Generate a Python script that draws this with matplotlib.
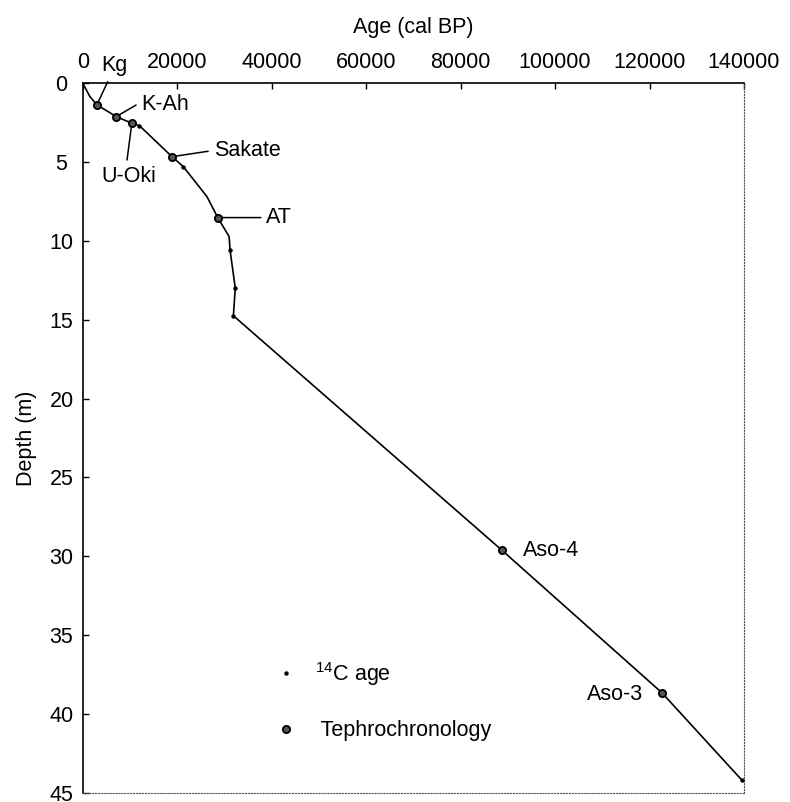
import matplotlib
matplotlib.use('Agg')
import matplotlib.pyplot as plt

plt.rcParams['font.family'] = ['Liberation Sans', 'DejaVu Sans']
plt.rcParams['mathtext.fontset'] = 'custom'
plt.rcParams['mathtext.rm'] = 'Liberation Sans'
plt.rcParams['font.size'] = 15.5

# age-depth curve (cal BP, m)
line_age = [0, 1500, 3000, 7100, 10400, 12000, 18900, 21300, 26300, 28600,
            31000, 31200, 32300, 31900, 88700, 122600, 139600]
line_depth = [0, 0.85, 1.38, 2.13, 2.55, 2.70, 4.67, 5.30, 7.20, 8.53,
              9.74, 10.6, 13.0, 14.75, 29.6, 38.64, 44.2]

# 14C dated levels
c14_age = [12000, 21300, 31200, 32300, 31900, 139600]
c14_depth = [2.70, 5.30, 10.6, 13.0, 14.75, 44.2]

# tephra markers
tephra_names = ['Kg', 'K-Ah', 'U-Oki', 'Sakate', 'AT', 'Aso-4', 'Aso-3']
tephra_age = [3000, 7100, 10400, 18900, 28600, 88700, 122600]
tephra_depth = [1.38, 2.13, 2.55, 4.67, 8.53, 29.6, 38.64]

x_ticks = list(range(0, 140001, 20000))
y_ticks = list(range(0, 46, 5))

# label placement: offset (pt), alignment, leader line start (relpos) or None
label_layout = {
    'Kg': ((3, 28), 'left', (0.35, 0.0)),
    'K-Ah': ((18, 9), 'left', (0.0, 0.6)),
    'U-Oki': ((-2, -38), 'center', (0.45, 1.0)),
    'Sakate': ((30, 4.5), 'left', (0.0, 0.5)),
    'AT': ((35, 0), 'left', (0.0, 0.5)),
    'Aso-4': ((15, 0), 'left', None),
    'Aso-3': ((-13.5, -1.6), 'right', None),
}

fig = plt.figure(figsize=(7.9, 8.02), dpi=100)
ax = fig.add_axes([82.7 / 790, 1 - 793 / 802, (744 - 82.7) / 790, (793 - 83) / 802])

ax.plot(line_age, line_depth, color='black', lw=1.2, zorder=2)
ax.plot(c14_age, c14_depth, 'o', color='black', ms=2.2, ls='none',
        label='$^{14}$C age', zorder=3, clip_on=False)
ax.plot(tephra_age, tephra_depth, 'o', ms=5.2, mfc='#555555', mec='black',
        mew=1.3, ls='none', label=' Tephrochronology', zorder=4)

for name, a, d in zip(tephra_names, tephra_age, tephra_depth):
    off, ha, rel = label_layout[name]
    arrow = None
    if rel is not None:
        arrow = dict(arrowstyle='-', color='black', lw=1.1, relpos=rel,
                     shrinkA=2, shrinkB=1)
    ax.annotate(name, xy=(a, d), xytext=off, textcoords='offset points',
                ha=ha, va='center', arrowprops=arrow, annotation_clip=False)

ax.set_xlim(0, 140000)
ax.set_ylim(45, 0)
ax.set_xticks(x_ticks)
ax.set_yticks(y_ticks)
ax.xaxis.tick_top()
ax.xaxis.set_label_position('top')
ax.set_xlabel('Age (cal BP)', labelpad=14)
ax.set_ylabel('Depth (m)', labelpad=9)

ax.tick_params(axis='x', direction='in', length=4.5, width=1, top=True,
               bottom=False, labeltop=True, labelbottom=False, pad=7)
ax.tick_params(axis='y', direction='in', length=4.5, width=1, left=True,
               right=False, pad=15.3)
for lab in ax.get_yticklabels():
    lab.set_horizontalalignment('center')

for s in ['top', 'left']:
    ax.spines[s].set_linewidth(1.2)
    ax.spines[s].set_color('black')
for s in ['right', 'bottom']:
    ax.spines[s].set_linewidth(0.8)
    ax.spines[s].set_linestyle(':')
    ax.spines[s].set_color('#555555')

ax.legend(loc='center left', bbox_to_anchor=(0.291, 0.13), frameon=False,
          handlelength=1, handletextpad=0.84, labelspacing=1.5,
          borderpad=0, borderaxespad=0, markerscale=1)

fig.savefig('out.png', dpi=100)
